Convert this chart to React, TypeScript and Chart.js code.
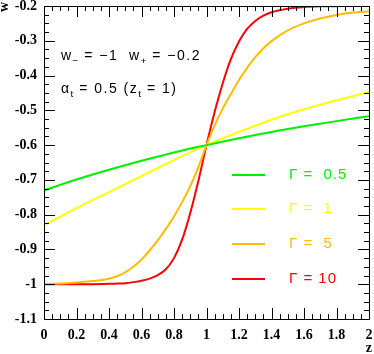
import React, { useEffect, useRef } from 'react';
import { Chart, registerables } from 'chart.js';

Chart.register(...registerables);

// ---- data ----
const zCoarse = [0, 0.2, 0.4, 0.6, 0.8, 1.0, 1.2, 1.4, 1.6, 1.8, 2.0];
const wGamma05 = [-0.730, -0.699, -0.671, -0.645, -0.621, -0.600, -0.580, -0.562, -0.546, -0.531, -0.517];
const wGamma1 = [-0.830, -0.781, -0.735, -0.689, -0.643, -0.600, -0.562, -0.527, -0.497, -0.471, -0.447];

const zFine = [0, 0.1, 0.2, 0.3, 0.4, 0.45, 0.5, 0.55, 0.6, 0.65, 0.7, 0.75, 0.8, 0.85, 0.9, 0.95, 1.0,
  1.05, 1.1, 1.15, 1.2, 1.25, 1.3, 1.35, 1.4, 1.5, 1.6, 1.7, 1.8, 1.9, 2.0];
const wGamma5 = [-0.999, -0.998, -0.995, -0.991, -0.984, -0.977, -0.966, -0.950, -0.929, -0.903, -0.874, -0.841, -0.805, -0.764, -0.718, -0.663, -0.600,
  -0.543, -0.495, -0.453, -0.413, -0.378, -0.347, -0.322, -0.301, -0.270, -0.250, -0.236, -0.226, -0.219, -0.215];
const wGamma10 = [-1.000, -1.000, -1.000, -1.000, -0.999, -0.998, -0.997, -0.994, -0.990, -0.984, -0.974, -0.957, -0.925, -0.872, -0.795, -0.703, -0.600,
  -0.505, -0.422, -0.353, -0.302, -0.266, -0.243, -0.228, -0.218, -0.208, -0.203, -0.201, -0.2005, -0.200, -0.200];

const legendLabels = ['\u0393 =  0.5', '\u0393 =  1', '\u0393 =  5', '\u0393 = 10'];
const seriesColors = ['#00ee00', '#ffff00', '#ffbb00', '#ff0000'];

const xMin = 0, xMax = 2, xMajor = 0.2, xMinor = 0.05;
const yMin = -1.1, yMax = -0.2, yMajor = 0.1, yMinor = 0.025;

const xTitle = 'z';
const yTitle = 'w';

type Part = [string, boolean];
const noteLine1: Part[] = [['w', false], ['\u2212', true], [' = \u22121  w', false], ['+', true], [' = \u22120.2', false]];
const noteLine2: Part[] = [['\u03b1', false], ['t', true], [' = 0.5 (z', false], ['t', true], [' = 1)', false]];

const fmt = (v: number) => String(parseFloat(Number(v).toFixed(3)));

function drawRich(ctx: any, x: number, y: number, parts: Part[], size: number) {
  let cx = x;
  ctx.textBaseline = 'alphabetic';
  ctx.textAlign = 'left';
  for (const [txt, sub] of parts) {
    const s = sub ? size * 0.7 : size;
    ctx.font = `${s}px "Liberation Sans", Arial, sans-serif`;
    ctx.letterSpacing = sub ? '0.5px' : '1.5px';
    ctx.fillText(txt, cx, sub ? y + size * 0.28 : y);
    cx += ctx.measureText(txt).width;
  }
  ctx.letterSpacing = '0px';
}

const framePlugin = {
  id: 'rootFrame',
  afterDatasetsDraw(chart: any) {
    const { ctx, chartArea: a, scales } = chart;
    const xs = scales.x, ys = scales.y;
    ctx.save();
    ctx.strokeStyle = '#000';
    ctx.lineWidth = 1;
    ctx.beginPath();
    ctx.rect(Math.round(a.left) + 0.5, Math.round(a.top) + 0.5, Math.round(a.right - a.left), Math.round(a.bottom - a.top));
    ctx.stroke();
    // x ticks (bottom & top, inward)
    const nx = Math.round((xMax - xMin) / xMinor);
    ctx.beginPath();
    for (let k = 0; k <= nx; k++) {
      const v = xMin + k * xMinor;
      const major = k % Math.round(xMajor / xMinor) === 0;
      const len = major ? 11 : 5;
      const px = Math.round(xs.getPixelForValue(v)) + 0.5;
      ctx.moveTo(px, a.bottom); ctx.lineTo(px, a.bottom - len);
      ctx.moveTo(px, a.top); ctx.lineTo(px, a.top + len);
    }
    const ny = Math.round((yMax - yMin) / yMinor);
    for (let k = 0; k <= ny; k++) {
      const v = yMin + k * yMinor;
      const major = k % Math.round(yMajor / yMinor) === 0;
      const len = major ? 11 : 5;
      const py = Math.round(ys.getPixelForValue(v)) + 0.5;
      ctx.moveTo(a.left, py); ctx.lineTo(a.left + len, py);
      ctx.moveTo(a.right, py); ctx.lineTo(a.right - len, py);
    }
    ctx.stroke();

    // axis titles
    ctx.fillStyle = '#000';
    ctx.font = 'bold 14px "Liberation Serif", "Times New Roman", serif';
    ctx.textAlign = 'right';
    ctx.textBaseline = 'middle';
    ctx.fillText(xTitle, a.right + 3, 348);
    ctx.save();
    ctx.translate(4, a.top);
    ctx.rotate(-Math.PI / 2);
    ctx.textAlign = 'right';
    ctx.fillText(yTitle, 4, 0);
    ctx.restore();

    // annotation
    ctx.fillStyle = '#000';
    drawRich(ctx, 61, 60, noteLine1, 14);
    drawRich(ctx, 61, 93, noteLine2, 14);

    // legend
    const legPix = [175, 209, 244, 279];
    for (let i = 0; i < legendLabels.length; i++) {
      const py = legPix[i];
      ctx.strokeStyle = seriesColors[i];
      ctx.lineWidth = 2;
      ctx.beginPath();
      ctx.moveTo(232, py); ctx.lineTo(265, py);
      ctx.stroke();
      ctx.fillStyle = seriesColors[i];
      ctx.font = '15px "Liberation Sans", Arial, sans-serif';
      ctx.letterSpacing = '1px';
      ctx.textAlign = 'left';
      ctx.textBaseline = 'middle';
      ctx.fillText(legendLabels[i], 289, py);
      ctx.letterSpacing = '0px';
    }
    ctx.restore();
  },
};

export default function App() {
  const ref = useRef<HTMLCanvasElement | null>(null);
  useEffect(() => {
    if (!ref.current) return;
    const mk = (zs: number[], ws: number[], i: number) => ({
      data: zs.map((z, j) => ({ x: z, y: ws[j] })),
      borderColor: seriesColors[i],
      borderWidth: 2,
      pointRadius: 0,
      fill: false,
      cubicInterpolationMode: 'monotone' as const,
    });
    const chart = new Chart(ref.current, {
      type: 'line',
      data: {
        datasets: [
          mk(zCoarse, wGamma05, 0),
          mk(zCoarse, wGamma1, 1),
          mk(zFine, wGamma5, 2),
          mk(zFine, wGamma10, 3),
        ],
      },
      options: {
        responsive: false,
        animation: false,
        layout: { padding: { left: 0, top: 6, right: 5, bottom: 0 } },
        plugins: { legend: { display: false }, tooltip: { enabled: false } },
        scales: {
          x: {
            type: 'linear', min: xMin, max: xMax,
            grid: { display: false, drawTicks: false },
            border: { display: false },
            ticks: {
              stepSize: xMajor, autoSkip: false, maxRotation: 0, padding: 8,
              color: '#000',
              font: { family: '"Liberation Serif", "Times New Roman", serif', size: 14, weight: 'bold' },
              callback: (v: any) => fmt(v),
            },
            afterFit: (s: any) => { s.height = 35; s.paddingLeft = 0; s.paddingRight = 0; },
          },
          y: {
            type: 'linear', min: yMin, max: yMax,
            grid: { display: false, drawTicks: false },
            border: { display: false },
            ticks: {
              stepSize: yMajor, autoSkip: false, padding: 7,
              color: '#000',
              font: { family: '"Liberation Serif", "Times New Roman", serif', size: 14, weight: 'bold' },
              callback: (v: any) => fmt(v),
            },
            afterFit: (s: any) => { s.width = 44; s.paddingTop = 0; s.paddingBottom = 0; },
          },
        },
      },
      plugins: [framePlugin],
    });
    return () => chart.destroy();
  }, []);
  return (
    <div style={{ position: 'fixed', left: 0, top: 0, width: 374, height: 354, background: '#fff' }}>
      <canvas ref={ref} width={374} height={354} style={{ width: 374, height: 354, display: 'block' }} />
    </div>
  );
}
